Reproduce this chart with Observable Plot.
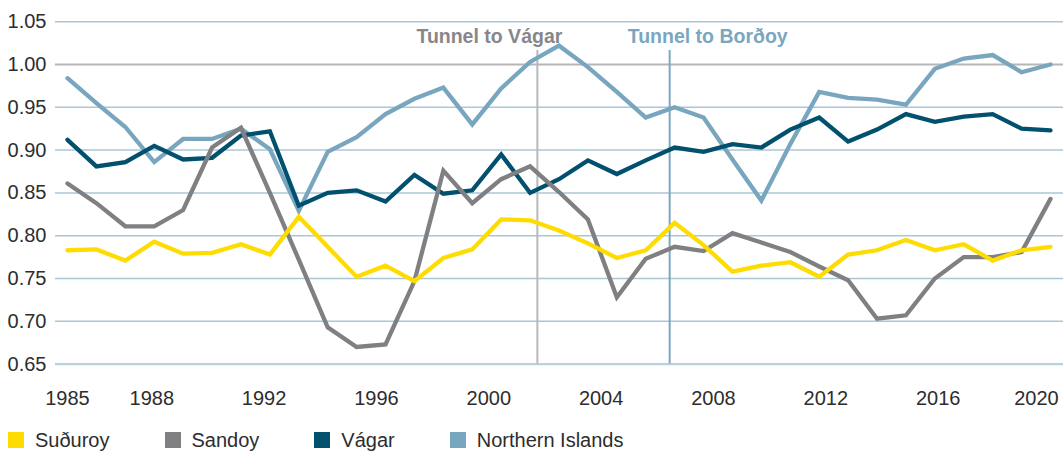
<!DOCTYPE html>
<html><head><meta charset="utf-8">
<script src="https://cdn.jsdelivr.net/npm/d3@7"></script>
<script src="https://cdn.jsdelivr.net/npm/@observablehq/plot@0.6"></script>
<style>
html,body{margin:0;padding:0;background:#fff;overflow:hidden;font-family:"Liberation Sans",Arial,sans-serif;}
#legend{display:flex;align-items:center;height:29px;padding-left:8px;font-size:20px;line-height:22px;color:#2d2d2d;}
.item{display:flex;align-items:center;margin-right:55px;}
.sw{width:16px;height:16px;margin-right:11px;flex:none;}
</style></head><body><div id="chart"></div><div id="legend"></div>
<script>
// Series (35 annual observations spanning 1985–2020 on the source's axis)
const seriesNames = ["Suðuroy", "Sandoy", "Vágar", "Northern Islands"];
const seriesColors = ["#ffdc00", "#808083", "#00506e", "#79a6bf"];

const suduroy = [0.783, 0.784, 0.771, 0.793, 0.779, 0.780, 0.790, 0.778, 0.822, 0.787, 0.752, 0.765, 0.747, 0.774, 0.784, 0.819, 0.818, 0.806, 0.791, 0.774, 0.783, 0.815, 0.789, 0.758, 0.765, 0.769, 0.752, 0.778, 0.783, 0.795, 0.783, 0.790, 0.771, 0.783, 0.787];
const sandoy = [0.861, 0.838, 0.811, 0.811, 0.830, 0.903, 0.926, 0.850, 0.772, 0.693, 0.670, 0.673, 0.747, 0.876, 0.838, 0.866, 0.881, 0.851, 0.819, 0.728, 0.773, 0.787, 0.782, 0.803, 0.792, 0.781, 0.764, 0.748, 0.703, 0.707, 0.750, 0.775, 0.775, 0.781, 0.843];
const vagar = [0.912, 0.881, 0.886, 0.905, 0.889, 0.891, 0.917, 0.922, 0.835, 0.850, 0.853, 0.840, 0.871, 0.849, 0.853, 0.895, 0.850, 0.866, 0.888, 0.872, 0.888, 0.903, 0.898, 0.907, 0.903, 0.924, 0.938, 0.910, 0.924, 0.942, 0.933, 0.939, 0.942, 0.925, 0.923];
const northernIslands = [0.984, 0.955, 0.927, 0.886, 0.913, 0.913, 0.925, 0.901, 0.829, 0.898, 0.915, 0.942, 0.960, 0.973, 0.930, 0.972, 1.003, 1.022, 0.997, 0.968, 0.938, 0.950, 0.938, 0.889, 0.841, 0.907, 0.968, 0.961, 0.959, 0.953, 0.995, 1.007, 1.011, 0.991, 1.000];

const firstYear = 1985, lastYear = 2020;
const xTickYears = [1985, 1988, 1992, 1996, 2000, 2004, 2008, 2012, 2016, 2020];
const yTicks = [0.65, 0.70, 0.75, 0.80, 0.85, 0.90, 0.95, 1.00, 1.05];
const tunnelLabels = ["Tunnel to Vágar", "Tunnel to Borðoy"];
const tunnelYears = [2001.73, 2006.44];
const tunnelColors = ["#b9b9bd", "#7ea7bf"];
const tunnelTextColors = ["#87878b", "#7aa7bf"];

// build table (draw order: Northern Islands at the bottom, Suðuroy on top)
const seriesValues = [suduroy, sandoy, vagar, northernIslands];
const rows = [];
[3, 2, 1, 0].forEach(k => {
  const vals = seriesValues[k];
  vals.forEach((v, i) => rows.push({
    series: seriesNames[k],
    year: firstYear + i * (lastYear - firstYear) / (vals.length - 1),
    value: v
  }));
});
const tunnels = tunnelLabels.map((label, i) => ({label, year: tunnelYears[i]}));

const chart = Plot.plot({
  width: 1063,
  height: 425,
  marginLeft: 55,
  marginRight: 0,
  marginTop: 21.2,
  marginBottom: 61.4,
  style: {fontFamily: "'Liberation Sans', Arial, sans-serif", fontSize: "20px", color: "#2d2d2d", background: "#fff"},
  x: {domain: [firstYear, lastYear], insetLeft: 12, insetRight: 13},
  y: {domain: [0.65, 1.05]},
  color: {domain: seriesNames, range: seriesColors},
  marks: [
    Plot.ruleY(yTicks.filter(t => t !== 1.00 && t !== 0.65), {stroke: "#aac7d8", strokeWidth: 1.5}),
    Plot.ruleY([0.65], {stroke: "#b9d1de", strokeWidth: 2.2}),
    Plot.ruleY([1.00], {stroke: "#b6b6b9", strokeWidth: 2.2}),
    Plot.ruleX([tunnels[0]], {x: "year", y1: 0.65, y2: 1.0164, stroke: tunnelColors[0], strokeWidth: 2}),
    Plot.ruleX([tunnels[1]], {x: "year", y1: 0.65, y2: 1.0164, stroke: tunnelColors[1], strokeWidth: 2}),
    Plot.line(rows, {x: "year", y: "value", z: "series", stroke: "series", strokeWidth: 4.3, strokeLinejoin: "miter", strokeMiterlimit: 6}),
    Plot.text([tunnels[0]], {x: "year", y: 1.0249, text: "label", dx: -48, lineAnchor: "bottom", fontWeight: "bold", fontSize: 19.5, fill: tunnelTextColors[0]}),
    Plot.text([tunnels[1]], {x: "year", y: 1.0249, text: "label", dx: 38, lineAnchor: "bottom", fontWeight: "bold", fontSize: 19.5, fill: tunnelTextColors[1]}),
    Plot.axisY({ticks: yTicks, tickFormat: d3.format(".2f"), tickSize: 0, tickPadding: 9, label: null, fontSize: 20}),
    Plot.axisX({ticks: xTickYears.slice(0, -1), tickFormat: d => String(d), tickSize: 0, tickPadding: 27, label: null, fontSize: 20}),
    Plot.axisX({ticks: xTickYears.slice(-1), tickFormat: d => String(d), tickSize: 0, tickPadding: 27, label: null, fontSize: 20, dx: -14})
  ]
});
document.getElementById("chart").appendChild(chart);

const legend = document.getElementById("legend");
seriesNames.forEach((name, i) => {
  const item = document.createElement("div");
  item.className = "item";
  const sw = document.createElement("span");
  sw.className = "sw";
  sw.style.background = seriesColors[i];
  const t = document.createElement("span");
  t.textContent = name;
  item.appendChild(sw);
  item.appendChild(t);
  legend.appendChild(item);
});
</script></body></html>
